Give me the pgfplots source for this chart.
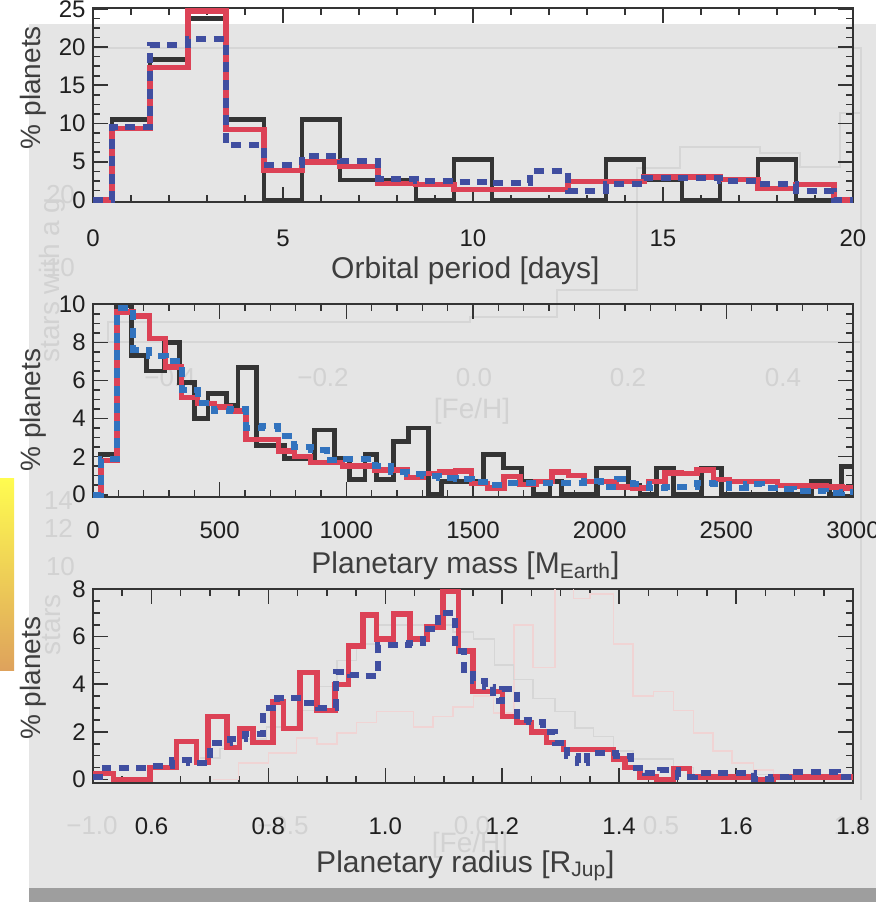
\documentclass[border=0pt]{standalone}
\usepackage{fontspec}
\setmainfont{Liberation Sans}
\usepackage{pgfplots}
\pgfplotsset{compat=1.18}

\definecolor{bgGray}{RGB}{229,229,229}
\definecolor{barGray}{RGB}{158,158,158}
\definecolor{hBlack}{RGB}{52,52,52}
\definecolor{hRed}{RGB}{220,66,86}
\definecolor{hBlue}{RGB}{64,78,160}
\definecolor{hBlueM}{RGB}{50,115,190}
\definecolor{fLine}{RGB}{214,214,214}
\definecolor{fPink}{RGB}{240,212,212}
\definecolor{fText}{RGB}{210,210,210}
\definecolor{labGray}{RGB}{62,62,62}
\definecolor{stripTop}{RGB}{255,252,80}
\definecolor{stripBot}{RGB}{222,162,92}

\pgfplotsset{
  panel/.style={scale only axis, width=380pt,
    axis line style={draw=hBlack, line width=1pt},
    tick align=inside, major tick length=7.5pt, minor tick length=3.5pt,
    tick style={draw=hBlack, line width=0.8pt},
    ticklabel style={font=\fontsize{12}{14}\selectfont, text=black!88},
    /pgf/number format/assume math mode=true,
    /pgf/number format/1000 sep={},
    yticklabel style={anchor=east, inner sep=0pt, xshift=-3.5pt},
    xlabel style={font=\fontsize{15}{18}\selectfont, text=labGray, anchor=base},
    ylabel style={font=\fontsize{14}{17}\selectfont, text=labGray, anchor=center},
  },
  hblk/.style={const plot, draw=hBlack, line width=2.4pt, mark=none},
  hred/.style={const plot, draw=hRed, line width=2.7pt, mark=none},
  hblu/.style={const plot, draw=hBlue, line width=3pt, mark=none, dash pattern=on 5pt off 3.8pt},
  faint/.style={const plot, line width=0.8pt, mark=none},
}
\tikzset{ftext/.style={font=\fontsize{13}{15}\selectfont, text=fText}}

\begin{document}
\begin{tikzpicture}
% canvas in pixel units of the reference (y downwards)
\begin{axis}[at={(0,0)}, anchor=south west, scale only axis,
  width=438pt, height=451pt, xmin=0, xmax=876, ymin=0, ymax=902,
  y dir=reverse, hide axis, clip=false]
  \fill[white] (axis cs:0,0) rectangle (axis cs:876,902);
  \fill[bgGray] (axis cs:29,24) rectangle (axis cs:876,888);
  \fill[barGray] (axis cs:29,888) rectangle (axis cs:876,902);
  \shade[top color=stripTop, bottom color=stripBot] (axis cs:0,478) rectangle (axis cs:14,670);
  % faint figure lying underneath
  \addplot[fLine, line width=0.8pt, mark=none] coordinates {(93,48) (861,48) (861,800)};
  \addplot[fLine, line width=0.8pt, mark=none] coordinates {(93,342) (861,342)};
  \addplot[fLine, line width=0.8pt, mark=none] coordinates {(108,342) (108,322) (470,322) (470,317) (557,317) (557,290) (637,290) (637,168) (680,168) (680,147) (760,147) (760,153) (800,153) (800,167) (840,167) (840,113) (861,113)};
  \node[ftext] at (axis cs:170,378) {−0.4};
  \node[ftext] at (axis cs:323,378) {−0.2};
  \node[ftext] at (axis cs:474,378) {0.0};
  \node[ftext] at (axis cs:628,378) {0.2};
  \node[ftext] at (axis cs:783,378) {0.4};
  \node[ftext, font=\fontsize{14}{16}\selectfont] at (axis cs:472,411) {[Fe/H]};
  \node[ftext] at (axis cs:92,826) {−1.0};
  \node[ftext] at (axis cs:283,826) {−0.5};
  \node[ftext] at (axis cs:472,826) {0.0};
  \node[ftext] at (axis cs:661,826) {0.5};
  \node[ftext] at (axis cs:852,826) {1.0};
  \node[ftext, font=\fontsize{14}{16}\selectfont] at (axis cs:470,845) {[Fe/H]};
  \node[ftext, anchor=east] at (axis cs:82,195) {20};
  \node[ftext, anchor=east] at (axis cs:82,268) {10};
  \node[ftext, anchor=east] at (axis cs:80,501) {14};
  \node[ftext, anchor=east] at (axis cs:80,528) {12};
  \node[ftext, anchor=east] at (axis cs:82,567) {10};
  \node[ftext, font=\fontsize{14}{16}\selectfont, rotate=90] at (axis cs:52,280) {stars with a g};
  \node[ftext, font=\fontsize{14}{16}\selectfont, rotate=90] at (axis cs:52,625) {stars};
\end{axis}

% orbital period
\begin{axis}[panel, at={(46.5pt,447pt)}, anchor=north west, height=97pt,
  xmin=0, xmax=20, ymin=-0.25, ymax=25.1,
  xtick={0,5,10,15,20}, minor x tick num=4,
  ytick={0,5,10,15,20,25}, minor y tick num=3,
  xticklabel style={anchor=north, inner sep=0pt, yshift=-13.7pt},
  xlabel={Orbital period [days]},
  xlabel style={at={(axis description cs:0.49,-0.394)}},
  ylabel={\% planets},
  ylabel style={at={(axis description cs:-0.079,0.59)}}]
  \addplot[hblk] coordinates {(0,0) (0.5,10.53) (1.5,18.42) (2.5,23.68) (3.5,10.53) (4.5,0) (5.5,10.53) (6.5,2.63) (7.5,2.63) (8.5,0) (9.5,5.26) (10.5,0) (11.5,0) (12.5,0) (13.5,5.26) (14.5,2.63) (15.5,0) (16.5,2.63) (17.5,5.26) (18.5,0) (19.5,0) (20,0)};
  \addplot[hred] coordinates {(0,0) (0.5,9.35) (1.5,17.3) (2.5,24.7) (3.5,9.2) (4.5,3.9) (5.5,5.0) (6.5,4.4) (7.5,2.2) (8.5,2.0) (9.5,1.4) (10.5,1.4) (11.5,1.4) (12.5,2.4) (13.5,2.4) (14.5,3.0) (15.5,3.0) (16.5,2.7) (17.5,1.5) (18.5,2.0) (19.5,0) (20,0)};
  \addplot[hblu] coordinates {(0,0) (0.5,9.6) (1.5,20.2) (2.5,21.0) (3.5,7.2) (4.5,4.6) (5.5,5.7) (6.5,5.1) (7.5,2.7) (8.5,2.5) (9.5,2.4) (10.5,2.2) (11.5,3.75) (12.5,1.25) (13.5,2.1) (14.5,2.9) (15.5,2.9) (16.5,2.5) (17.5,2.1) (18.5,1.25) (19.5,0) (20,0)};
\end{axis}

% planetary mass
\begin{axis}[panel, at={(46.5pt,299pt)}, anchor=north west, height=96.5pt,
  xmin=0, xmax=3000, ymin=-0.12, ymax=10.02,
  xtick={0,500,1000,1500,2000,2500,3000}, minor x tick num=4,
  ytick={0,2,4,6,8,10}, minor y tick num=3,
  xticklabel style={anchor=north, inner sep=0pt, yshift=-12.2pt},
  xlabel={Planetary mass [M\textsubscript{Earth}]},
  xlabel style={at={(axis description cs:0.49,-0.396)}},
  ylabel={\% planets},
  ylabel style={at={(axis description cs:-0.079,0.45)}}]
  \addplot[hblk] coordinates {(0,0) (30,2.1) (92,9.95) (151,7.3) (210,6.5) (283,8.0) (342,5.9) (401,4.0) (454,5.3) (526,4.7) (572,6.7) (645,2.6) (757,1.9) (875,3.4) (954,1.9) (1014,0.8) (1074,2.1) (1120,0.8) (1186,2.8) (1245,3.5) (1324,0) (1376,0.7) (1541,2.1) (1620,1.4) (1692,0.7) (1738,0) (1804,0.7) (1850,0) (1988,1.4) (2113,0.5) (2159,0) (2225,1.4) (2291,0) (2403,1.4) (2482,0) (2837,0.7) (2909,0) (2955,1.5) (3000,1.5)};
  \addplot[hred] coordinates {(0,0) (31.8,1.8) (95.4,9.6) (159.0,9.4) (222.6,8.2) (286.2,6.7) (349.8,5.1) (413.4,4.8) (477.0,4.6) (540.6,4.4) (604.2,2.9) (667.8,2.9) (731.4,2.3) (795.0,2.0) (858.6,1.7) (922.2,1.7) (985.8,1.5) (1049.4,1.5) (1113.0,1.3) (1176.6,1.3) (1240.2,0.9) (1303.8,1.1) (1367.4,1.2) (1431.0,1.25) (1494.6,0.6) (1558.2,0.35) (1621.8,0.95) (1685.4,0.55) (1749.0,0.7) (1812.6,1.2) (1876.2,1.0) (1939.8,0.7) (2003.4,0.7) (2067.0,0.4) (2130.6,0.35) (2194.2,0.7) (2257.8,1.15) (2321.4,1.1) (2385.0,1.3) (2448.6,0.8) (2512.2,0.7) (2575.8,0.7) (2639.4,0.7) (2703.0,0.5) (2766.6,0.45) (2830.2,0.45) (2893.8,0.4) (2957.4,0.35) (3000,0.35)};
  \addplot[hblu, draw=hBlueM] coordinates {(0,0) (31.8,1.9) (95.4,9.8) (159.0,7.6) (222.6,7.3) (286.2,7.0) (349.8,5.5) (413.4,4.8) (477.0,4.4) (540.6,4.5) (604.2,3.5) (667.8,3.6) (731.4,3.1) (795.0,2.5) (858.6,2.35) (922.2,1.8) (985.8,1.9) (1049.4,1.9) (1113.0,1.5) (1176.6,1.2) (1240.2,1.1) (1303.8,1.0) (1367.4,0.9) (1431.0,0.85) (1494.6,0.65) (1558.2,0.5) (1621.8,0.6) (1685.4,0.6) (1749.0,0.6) (1812.6,0.6) (1876.2,0.6) (1939.8,0.7) (2003.4,0.4) (2067.0,0.8) (2130.6,0.57) (2194.2,0.36) (2257.8,0.4) (2321.4,0.4) (2385.0,0.6) (2448.6,0.57) (2512.2,0.36) (2575.8,0.54) (2639.4,0.36) (2703.0,0.3) (2766.6,0.22) (2830.2,0.22) (2893.8,0.1) (2957.4,0.15) (3000,0.15)};
\end{axis}

% planetary radius
\begin{axis}[panel, at={(46.5pt,156.5pt)}, anchor=north west, height=97pt,
  xmin=0.5, xmax=1.8, ymin=-0.15, ymax=8.0,
  xtick={0.6,0.8,1.0,1.2,1.4,1.6,1.8},
  minor xtick={0.55,0.65,0.7,0.75,0.85,0.9,0.95,1.05,1.1,1.15,1.25,1.3,1.35,1.45,1.5,1.55,1.65,1.7,1.75},
  ytick={0,2,4,6,8}, minor y tick num=3,
  xticklabel style={anchor=north, inner sep=0pt, yshift=-17.2pt,
    /pgf/number format/.cd, fixed, fixed zerofill, precision=1},
  xlabel={Planetary radius [R\textsubscript{Jup}]},
  xlabel style={at={(axis description cs:0.49,-0.461)}},
  ylabel={\% planets},
  ylabel style={at={(axis description cs:-0.079,0.54)}}]
  \addplot[faint, draw=fPink] coordinates {(0.705,0) (0.749,0.7) (0.800,1.1) (0.848,1.75) (0.883,1.5) (0.917,1.95) (0.951,2.4) (0.985,2.85) (1.048,2.2) (1.082,2.65) (1.116,3.05) (1.151,3.5) (1.185,2.8) (1.220,6.5) (1.253,4.7) (1.290,9.0) (1.322,7.6) (1.350,7.8) (1.390,5.7) (1.424,3.5) (1.459,3.7) (1.493,2.9) (1.527,1.95) (1.561,1.2) (1.593,0.7) (1.630,0.4) (1.664,0.2) (1.800,0.2)};
  \addplot[faint, draw=fLine] coordinates {(0.683,0.9) (0.717,1.3) (0.751,1.7) (0.797,2.2) (0.848,2.9) (0.883,3.9) (0.917,5.0) (0.951,5.7) (0.985,6.5) (1.116,6.2) (1.151,5.9) (1.187,4.8) (1.219,4.2) (1.253,3.4) (1.290,2.85) (1.324,2.15) (1.356,1.8) (1.390,1.2) (1.424,0.85) (1.493,0.5) (1.527,0.2) (1.800,0.2)};
  \addplot[hred] coordinates {(0.500,0.25) (0.535,0.0) (0.5975,0.5) (0.643,1.6) (0.677,0.7) (0.697,2.65) (0.729,1.35) (0.751,2.15) (0.774,1.55) (0.808,3.25) (0.826,2.15) (0.854,4.5) (0.883,2.9) (0.914,4.0) (0.937,5.6) (0.962,6.9) (0.985,5.9) (1.014,6.95) (1.042,5.9) (1.071,6.4) (1.099,7.9) (1.125,5.4) (1.150,3.7) (1.200,2.65) (1.225,2.4) (1.250,2.0) (1.276,1.55) (1.305,1.27) (1.390,0.86) (1.410,0.5) (1.436,0.1) (1.464,0.0) (1.493,0.45) (1.520,0.1) (1.630,0.0) (1.664,0.1) (1.800,0.1)};
  \addplot[hblu] coordinates {(0.500,0.1) (0.520,0.5) (0.600,0.55) (0.635,0.8) (0.665,0.7) (0.700,1.55) (0.735,1.7) (0.760,1.9) (0.790,3.0) (0.815,3.4) (0.860,3.2) (0.885,3.0) (0.915,4.5) (0.940,4.4) (0.965,4.35) (0.988,5.65) (1.040,5.75) (1.065,6.3) (1.090,7.0) (1.120,5.4) (1.135,4.6) (1.150,4.15) (1.170,3.9) (1.185,3.3) (1.200,3.8) (1.225,2.5) (1.245,2.4) (1.270,2.0) (1.290,1.55) (1.310,1.0) (1.330,0.7) (1.345,1.1) (1.395,1.0) (1.420,0.5) (1.445,0.25) (1.470,0.4) (1.500,0.1) (1.530,0.25) (1.630,0.0) (1.660,0.1) (1.690,0.3) (1.775,0.1) (1.800,0.1)};
\end{axis}
\pgfresetboundingbox
\useasboundingbox (0,0) rectangle (438pt,451pt);
\end{tikzpicture}
\end{document}
